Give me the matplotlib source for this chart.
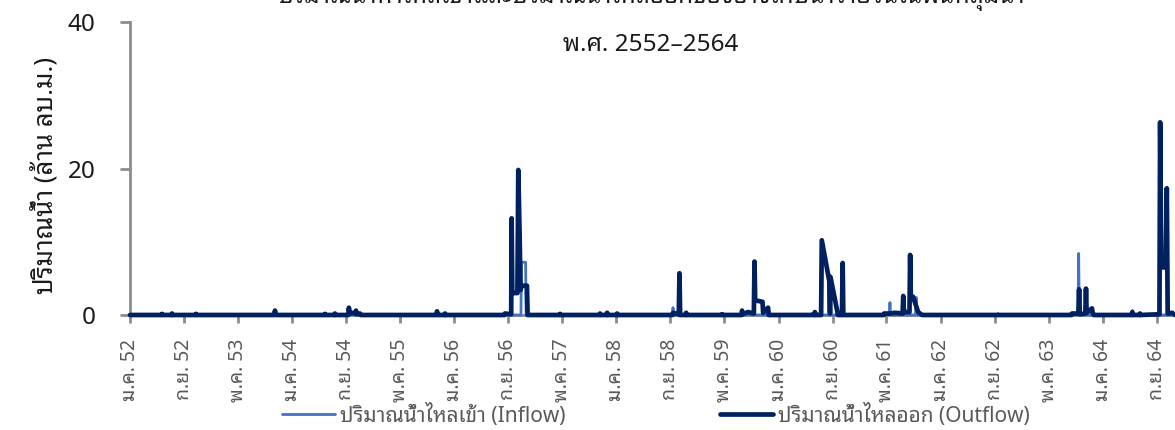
import matplotlib
matplotlib.use("Agg")
import matplotlib.pyplot as plt
import pandas as pd

plt.rcParams['font.family'] = ['Noto Sans Thai Looped', 'Noto Sans', 'DejaVu Sans']

# ปริมาณน้ำไหลออก (ล้าน ลบ.ม.)
out_dates = [
    '2009-01-01', '2009-05-23', '2009-05-25', '2009-05-27', '2009-07-07', '2009-07-09', '2009-07-11',
    '2009-10-23', '2009-10-25', '2009-10-27', '2010-10-12', '2010-10-16', '2010-10-20',
    '2011-05-27', '2011-05-29', '2011-05-31', '2011-07-11', '2011-07-13', '2011-07-15',
    '2011-09-11', '2011-09-14', '2011-09-17', '2011-09-28', '2011-10-13', '2011-10-16', '2011-10-19',
    '2011-11-03', '2011-11-06', '2012-10-12', '2012-10-15', '2012-10-18', '2012-11-18', '2012-11-20',
    '2012-11-22', '2013-08-15', '2013-08-17', '2013-09-14', '2013-09-16', '2013-09-19', '2013-10-12',
    '2013-10-16', '2013-10-22', '2013-10-26', '2013-10-31', '2013-11-24', '2013-11-27',
    '2014-04-20', '2014-04-22', '2014-04-24', '2014-10-17', '2014-10-19', '2014-10-21',
    '2014-11-18', '2014-11-20', '2014-11-22', '2015-01-02', '2015-01-04', '2015-01-06',
    '2015-09-11', '2015-09-13', '2015-10-09', '2015-10-12', '2015-10-15', '2015-11-09', '2015-11-11',
    '2015-11-13', '2016-04-19', '2016-04-21', '2016-04-23', '2016-07-17', '2016-07-20', '2016-07-23',
    '2016-08-16', '2016-09-11', '2016-09-14', '2016-09-17', '2016-10-20', '2016-10-23', '2016-11-14',
    '2016-11-17', '2017-06-11', '2017-06-13', '2017-06-15', '2017-07-11', '2017-07-14', '2017-08-17',
    '2017-08-20', '2017-08-22', '2017-09-25', '2017-10-13', '2017-10-16', '2017-10-19',
    '2018-04-19', '2018-04-21', '2018-05-17', '2018-06-09', '2018-07-13', '2018-07-16', '2018-07-19',
    '2018-08-13', '2018-08-16', '2018-08-19', '2018-08-29', '2018-09-12', '2018-09-21', '2018-10-09',
    '2020-08-12', '2020-08-14', '2020-09-12', '2020-09-15', '2020-09-18', '2020-10-13', '2020-10-16',
    '2020-10-19', '2020-11-12', '2020-11-15', '2020-11-20', '2021-05-10', '2021-05-13', '2021-05-16',
    '2021-06-14', '2021-06-16', '2021-06-18', '2021-09-12', '2021-09-15', '2021-09-20', '2021-10-10',
    '2021-10-15', '2021-10-19', '2021-10-25', '2021-11-08', '2021-11-21',
]
out_vals = [
    0, 0, 0.15, 0, 0, 0.2, 0,
    0, 0.15, 0, 0, 0.6, 0,
    0, 0.15, 0, 0, 0.2, 0,
    0, 1.0, 0.2, 0.3, 0.2, 0.6, 0.1,
    0.2, 0, 0, 0.5, 0, 0, 0.2,
    0, 0, 0.2, 0.1, 13.2, 3.0, 3.0,
    19.8, 10.8, 3.4, 4.0, 4.0, 0,
    0, 0.15, 0, 0, 0.2, 0,
    0, 0.3, 0, 0, 0.2, 0,
    0, 0.3, 0.1, 5.7, 0, 0, 0.3,
    0, 0, 0.1, 0, 0, 0.6, 0.1,
    0.4, 0.2, 7.3, 2.0, 1.8, 0.3, 1.0,
    0, 0, 0.4, 0, 0, 10.2, 4.6,
    0.2, 5.2, 0, 0, 7.1, 0,
    0, 0.2, 0.2, 0.3, 0.2, 2.6, 0.4,
    0.4, 8.2, 2.5, 2.5, 1.2, 0.4, 0,
    0, 0.2, 0.2, 3.5, 0.1, 0.2, 3.6,
    0.3, 0.9, 0.3, 0, 0, 0.4, 0,
    0, 0.2, 0, 0.1, 26.3, 6.5, 6.5,
    17.3, 0.2, 0.2, 0.3, 0,
]

# ปริมาณน้ำไหลเข้า (ล้าน ลบ.ม.)
in_dates = [
    '2009-01-01', '2013-10-28', '2013-10-30', '2013-11-18', '2013-11-20',
    '2015-09-10', '2015-09-13', '2015-09-16', '2017-05-29', '2017-05-31', '2017-06-02',
    '2018-05-14', '2018-05-17', '2018-05-20', '2018-09-09', '2018-09-12', '2018-09-15',
    '2019-09-14', '2019-09-16', '2019-09-18', '2020-09-10', '2020-09-13', '2020-09-16',
    '2021-05-10', '2021-05-13', '2021-05-16', '2021-11-21',
]
in_vals = [
    0, 0, 7.2, 7.2, 0,
    0, 1.0, 0, 0, 0.2, 0,
    0, 1.7, 0, 0, 2.4, 0,
    0, 0.2, 0, 0, 8.4, 0,
    0, 0.6, 0, 0,
]

tick_labels = ['ม.ค. 52', 'ก.ย. 52', 'พ.ค. 53', 'ม.ค. 54', 'ก.ย. 54', 'พ.ค. 55', 'ม.ค. 56',
               'ก.ย. 56', 'พ.ค. 57', 'ม.ค. 58', 'ก.ย. 58', 'พ.ค. 59', 'ม.ค. 60', 'ก.ย. 60',
               'พ.ค. 61', 'ม.ค. 62', 'ก.ย. 62', 'พ.ค. 63', 'ม.ค. 64', 'ก.ย. 64']

W, H = 1175, 430
fig = plt.figure(figsize=(W / 100, H / 100), dpi=100)
ax = fig.add_axes([130 / W, 1 - 315 / H, 1 - 130 / W, (315 - 22) / H])

ax.plot(pd.to_datetime(in_dates), in_vals, color='#4472C4', lw=2.0,
        solid_joinstyle='round', solid_capstyle='round', zorder=3, clip_on=False,
        label='ปริมาณน้ำไหลเข้า (Inflow)')
ax.plot(pd.to_datetime(out_dates), out_vals, color='#002060', lw=3.4,
        solid_joinstyle='round', solid_capstyle='round', zorder=4, clip_on=False,
        label='ปริมาณน้ำไหลออก (Outflow)')

ax.set_ylim(0, 40)
ax.set_yticks([0, 20, 40])
ax.set_xlim(pd.Timestamp('2009-01-01'), pd.Timestamp('2021-11-21'))
ax.set_xticks(pd.date_range('2009-01-01', periods=len(tick_labels), freq='8MS'))
ax.set_xticklabels(tick_labels, rotation=90, color='#595959', fontsize=14)

for s in ['top', 'right']:
    ax.spines[s].set_visible(False)
for s in ['left', 'bottom']:
    ax.spines[s].set_color('#8c8c8c')
    ax.spines[s].set_linewidth(2)
ax.tick_params(axis='y', length=7, width=2, color='#8c8c8c', pad=18, labelsize=17.5, labelcolor='#1a1a1a')
ax.tick_params(axis='x', length=6, width=2, color='#8c8c8c', pad=11)

ax.set_ylabel('ปริมาณน้ำ (ล้าน ลบ.ม.)', fontsize=18.5, color='#1a1a1a', va='center')
ax.yaxis.set_label_coords((45 - 130) / (W - 130), 0.478)

fig.text(651 / W, 1 - 3 / H, 'ปริมาณน้ำท่าไหลเข้าและปริมาณน้ำไหลออกของอ่างเก็บน้ำรายวันในพื้นที่ลุ่มน้ำ',
         ha='center', va='baseline', fontsize=17.5, color='#1a1a1a')
fig.text(651 / W, 1 - 45 / H, 'พ.ศ. 2552–2564', ha='center', va='center', fontsize=17.5, color='#1a1a1a')

leg = fig.legend(loc='center', bbox_to_anchor=(656 / W, 1 - 415 / H), ncol=2, frameon=False,
                 handlelength=2.54, handletextpad=0.24, columnspacing=7.44, fontsize=15,
                 borderaxespad=0, borderpad=0)
for t in leg.get_texts():
    t.set_color('#595959')

fig.savefig('out.png', dpi=100)
